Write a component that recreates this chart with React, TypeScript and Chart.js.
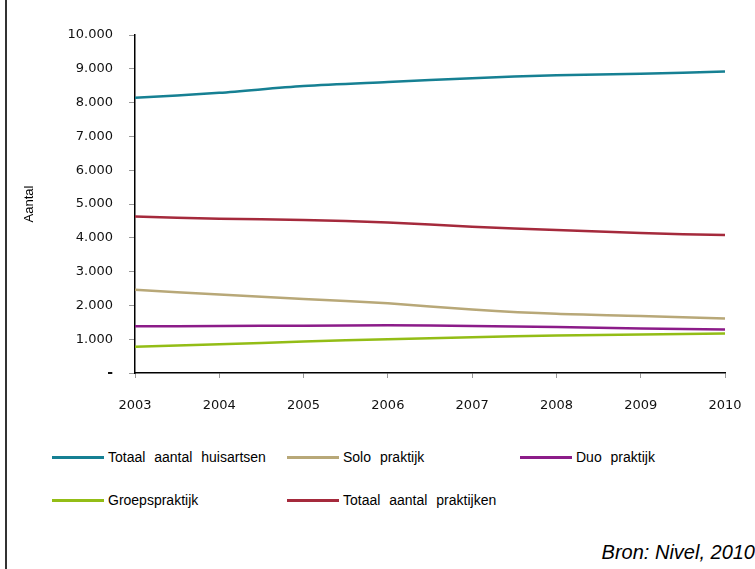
import React, { useEffect, useRef } from "react";
import { Chart, registerables } from "chart.js";

Chart.register(...registerables);

const years = ["2003", "2004", "2005", "2006", "2007", "2008", "2009", "2010"];
const seriesLabels = [
  "Totaal aantal huisartsen",
  "Solo praktijk",
  "Duo praktijk",
  "Groepspraktijk",
  "Totaal aantal praktijken",
];
const totaalHuisartsen = [8140, 8290, 8490, 8610, 8720, 8810, 8850, 8920];
const soloPraktijk = [2460, 2320, 2190, 2060, 1880, 1750, 1690, 1610];
const duoPraktijk = [1380, 1390, 1400, 1410, 1390, 1360, 1320, 1290];
const groepsPraktijk = [780, 850, 930, 1000, 1060, 1110, 1140, 1165];
const totaalPraktijken = [4630, 4560, 4530, 4450, 4330, 4230, 4140, 4080];
const colors = ["#168093", "#b8a878", "#8c1c89", "#93bd16", "#a52a3c"];
const yMax = 10000;
const yStep = 1000;

const fmt = (v: number) =>
  v === 0 ? "-" : String(v).replace(/\B(?=(\d{3})+(?!\d))/g, ".");

export default function App() {
  const ref = useRef<HTMLCanvasElement | null>(null);
  useEffect(() => {
    if (!ref.current) return;
    const values = [totaalHuisartsen, soloPraktijk, duoPraktijk, groepsPraktijk, totaalPraktijken];
    const chart = new Chart(ref.current, {
      type: "line",
      data: {
        labels: years,
        datasets: values.map((d, i) => ({
          label: seriesLabels[i],
          data: d,
          borderColor: colors[i],
          backgroundColor: colors[i],
          borderWidth: 2.5,
          pointRadius: 0,
          tension: 0.3,
          fill: false,
        })),
      },
      options: {
        animation: false,
        responsive: false,
        devicePixelRatio: 1,
        layout: { padding: { left: 18, top: 35, right: 30, bottom: 0 } },
        plugins: { legend: { display: false }, tooltip: { enabled: false } },
        scales: {
          x: {
            type: "category",
            offset: false,
            grid: {
              offset: false,
              drawOnChartArea: false,
              drawTicks: true,
              tickLength: 5,
              color: "#999",
            },
            border: { color: "#000", width: 1.5 },
            ticks: {
              padding: 20,
              color: "#111",
              maxRotation: 0,
              font: { family: "DejaVu Sans", size: 13 },
            },
            afterFit: (s: any) => {
              s.height = 57;
              s.paddingRight = 0;
              s.paddingLeft = 0;
            },
          },
          y: {
            min: 0,
            max: yMax,
            grid: {
              drawOnChartArea: false,
              drawTicks: true,
              tickLength: 6,
              color: "#999",
            },
            border: { color: "#000", width: 1.5 },
            ticks: {
              stepSize: yStep,
              padding: 16,
              color: "#111",
              callback: (v: any) => fmt(Number(v)),
              font: (ctx: any) =>
                ctx.tick && ctx.tick.value === 0
                  ? { family: "DejaVu Sans", size: 14, weight: "bold" }
                  : { family: "DejaVu Sans", size: 13 },
            },
            title: {
              display: true,
              text: "Aantal",
              color: "#000",
              font: { family: "Liberation Sans", size: 13 },
            },
            afterFit: (s: any) => {
              s.width = 117;
            },
          },
        },
      },
    });
    return () => chart.destroy();
  }, []);

  const legendPos = [
    { x: 52, y: 457 },
    { x: 287, y: 457 },
    { x: 520, y: 457 },
    { x: 52, y: 500 },
    { x: 287, y: 500 },
  ];

  return (
    <div
      style={{
        position: "absolute",
        left: 0,
        top: 0,
        width: 755,
        height: 569,
        background: "#fff",
        overflow: "hidden",
      }}
    >
      <div
        style={{
          position: "absolute",
          left: 5,
          top: 0,
          width: 2,
          height: 569,
          background: "#333",
        }}
      />
      <canvas
        ref={ref}
        width={755}
        height={430}
        style={{ position: "absolute", left: 0, top: 0, width: 755, height: 430 }}
      />
      {seriesLabels.map((lbl, i) => (
        <div key={lbl}>
          <div
            style={{
              position: "absolute",
              left: legendPos[i].x,
              top: legendPos[i].y - 1.5,
              width: 52,
              height: 3,
              background: colors[i],
            }}
          />
          <div
            style={{
              position: "absolute",
              left: legendPos[i].x + 56,
              top: legendPos[i].y - 10,
              fontFamily: "Liberation Sans",
              fontSize: 14,
              lineHeight: "20px",
              wordSpacing: 5,
              color: "#000",
              whiteSpace: "nowrap",
            }}
          >
            {lbl}
          </div>
        </div>
      ))}
      <div
        style={{
          position: "absolute",
          right: 0,
          top: 539,
          fontFamily: "Liberation Sans",
          fontStyle: "italic",
          fontSize: 20,
          lineHeight: "26px",
          color: "#000",
          whiteSpace: "nowrap",
        }}
      >
        Bron: Nivel, 2010
      </div>
    </div>
  );
}
